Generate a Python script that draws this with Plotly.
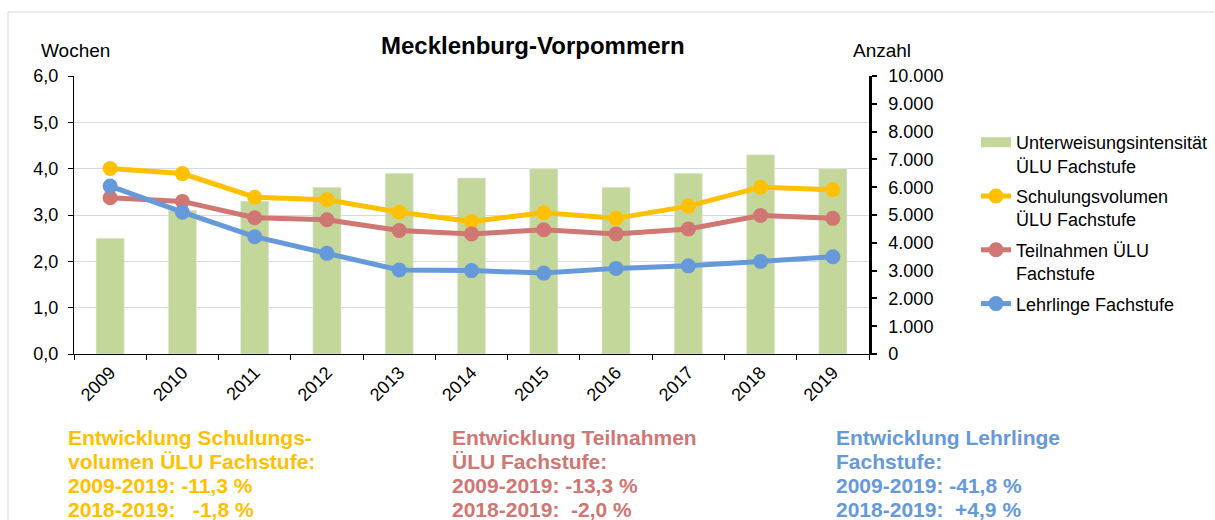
import plotly.graph_objects as go

# ---- data ----
years = ["2009", "2010", "2011", "2012", "2013", "2014", "2015", "2016", "2017", "2018", "2019"]
intensitaet = [2.5, 3.1, 3.3, 3.6, 3.9, 3.8, 4.0, 3.6, 3.9, 4.3, 4.0]          # Wochen
schulungsvolumen = [6670, 6490, 5640, 5550, 5100, 4770, 5080, 4880, 5320, 6000, 5910]  # Anzahl
teilnahmen = [5620, 5490, 4900, 4830, 4440, 4320, 4470, 4320, 4500, 4980, 4880]
lehrlinge = [6040, 5100, 4220, 3620, 3020, 3000, 2910, 3080, 3170, 3330, 3500]

left_ticks = [0, 1, 2, 3, 4, 5, 6]
right_ticks = [0, 1000, 2000, 3000, 4000, 5000, 6000, 7000, 8000, 9000, 10000]

names = ["Unterweisungsintensität<br>ÜLU Fachstufe",
         "Schulungsvolumen<br>ÜLU Fachstufe",
         "Teilnahmen ÜLU<br>Fachstufe",
         "Lehrlinge Fachstufe"]

notes = [
    ["Entwicklung Schulungs-", "volumen ÜLU Fachstufe:", "2009-2019: -11,3 %", "2018-2019:   -1,8 %"],
    ["Entwicklung Teilnahmen", "ÜLU Fachstufe:", "2009-2019: -13,3 %", "2018-2019:  -2,0 %"],
    ["Entwicklung Lehrlinge", "Fachstufe:", "2009-2019: -41,8 %", "2018-2019:  +4,9 %"],
]

GREEN = "#c4d79b"
YELLOW = "#ffc000"
RED = "#d07673"
BLUE = "#6699d9"
FONT = "Liberation Sans, Arial, sans-serif"

W, H = 1215, 520
L, R, T, B = 74, 346, 76, 166
PW = W - L - R
PH = H - T - B


def px(x):
    return (x - L) / PW


def py(y):
    return (H - B - y) / PH


fig = go.Figure()

fig.add_trace(go.Bar(x=years, y=intensitaet, name=names[0], marker_color=GREEN,
                     showlegend=False, yaxis="y"))
# legend entry for bars (wide band symbol)
fig.add_trace(go.Scatter(x=[None], y=[None], mode="lines", name=names[0],
                         line=dict(color=GREEN, width=10), legendgroup="a", yaxis="y"))

for vals, nm, col, grp in [(schulungsvolumen, names[1], YELLOW, "b"),
                           (teilnahmen, names[2], RED, "c"),
                           (lehrlinge, names[3], BLUE, "d")]:
    fig.add_trace(go.Scatter(x=years, y=vals, name=nm, mode="lines+markers",
                             line=dict(color=col, width=5),
                             marker=dict(color=col, size=15),
                             legendgroup=grp, yaxis="y2"))

annotations = [
    dict(text="<b>Mecklenburg-Vorpommern</b>", x=px(533), y=py(45), xref="paper", yref="paper",
         showarrow=False, font=dict(size=24, color="black", family=FONT), xanchor="center", yanchor="middle"),
    dict(text="Wochen", x=px(75), y=py(51), xref="paper", yref="paper", showarrow=False,
         font=dict(size=19, color="black", family=FONT), xanchor="center", yanchor="middle"),
    dict(text="Anzahl", x=px(882), y=py(51), xref="paper", yref="paper", showarrow=False,
         font=dict(size=19, color="black", family=FONT), xanchor="center", yanchor="middle"),
]
line_y = [437, 461, 485, 509]
for lines, col, xx in zip(notes, [YELLOW, RED, BLUE], [66, 450, 834]):
    for txt, yy in zip(lines, line_y):
        annotations.append(dict(text="<b>" + txt.replace("  ", "&nbsp;&nbsp;") + "</b>",
                                x=px(xx), y=py(yy), xref="paper", yref="paper",
                                showarrow=False, align="left", xanchor="left", yanchor="middle",
                                font=dict(size=21, color=col, family=FONT)))

shapes = [
    dict(type="line", xref="paper", yref="paper", x0=px(8), x1=px(8), y0=py(520), y1=py(12),
         line=dict(color="#d9d9d9", width=1)),
    dict(type="line", xref="paper", yref="paper", x0=px(8), x1=px(1214), y0=py(12), y1=py(12),
         line=dict(color="#d9d9d9", width=1)),
]

fig.update_layout(
    width=W, height=H,
    margin=dict(l=L, r=R, t=T, b=B, autoexpand=False),
    paper_bgcolor="white", plot_bgcolor="white",
    separators=",.",
    font=dict(family=FONT, size=18, color="black"),
    bargap=0.61,
    showlegend=True,
    legend=dict(xref="container", yref="container", x=976 / W, y=1 - 124 / H,
                xanchor="left", yanchor="top", font=dict(size=18, family=FONT),
                traceorder="grouped", tracegroupgap=4, valign="top",
                bgcolor="rgba(0,0,0,0)"),
    xaxis=dict(type="category", range=[-0.5, 10.5], showline=True, linecolor="black", linewidth=1,
               ticks="outside", tickson="boundaries", ticklen=5, tickcolor="black",
               tickangle=-45, showgrid=False, tickfont=dict(size=18), automargin=False),
    yaxis=dict(range=[0, 6], tickvals=left_ticks, tickformat=".1f", showline=True,
               linecolor="black", linewidth=1, ticks="outside", ticklen=5, tickcolor="black",
               showgrid=True, gridcolor="#d9d9d9", gridwidth=1, zeroline=False,
               tickfont=dict(size=18), automargin=False, ticklabelstandoff=6),
    yaxis2=dict(range=[0, 10000], tickvals=right_ticks, tickformat=",d", overlaying="y", side="right",
                showline=True, linecolor="black", linewidth=2.5, ticks="outside", ticklen=5,
                tickcolor="black", tickwidth=2, showgrid=False, zeroline=False,
                tickfont=dict(size=18), automargin=False, ticklabelstandoff=8),
    annotations=annotations,
    shapes=shapes,
)

fig.write_html("out.html", config={"displayModeBar": False},
               post_script="document.body.style.margin='0';")
